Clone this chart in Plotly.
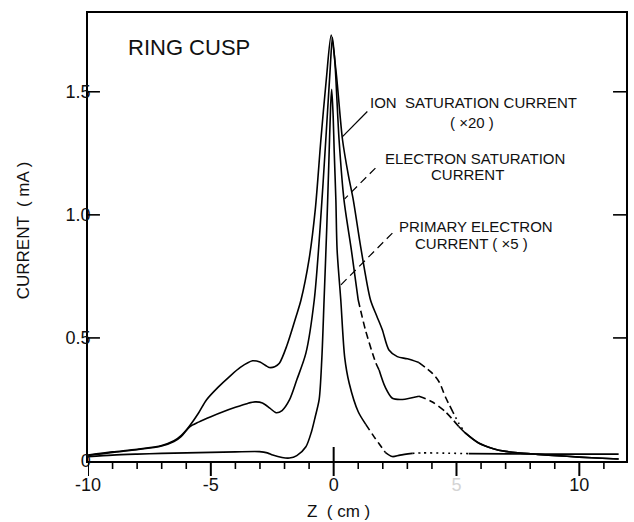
import plotly.graph_objects as go

# ---------------- data ----------------
# Ion saturation current (x20)
ion_z = [-10.0, -9.0, -8.0, -7.0, -6.5, -6.2, -5.9, -5.5, -5.18, -4.7, -4.24, -3.8, -3.3, -3.0,
         -2.62, -2.4, -2.21, -1.9, -1.53, -1.33, -1.0, -0.75, -0.52, -0.3, -0.1, 0.1, 0.36,
         0.6, 0.8, 1.1, 1.5, 1.75, 1.98, 2.25, 2.59, 3.0, 3.47, 4.0, 4.3, 4.55, 4.85, 5.09,
         5.36, 5.9, 6.5, 7.0, 7.5, 8.3, 9.5, 10.5, 11.6]
ion_i = [0.024, 0.037, 0.048, 0.063, 0.082, 0.104, 0.138, 0.195, 0.248, 0.300, 0.343, 0.380,
         0.407, 0.402, 0.380, 0.383, 0.397, 0.470, 0.587, 0.654, 0.820, 1.020, 1.305, 1.550,
         1.730, 1.580, 1.305, 1.160, 1.060, 0.870, 0.654, 0.590, 0.533, 0.451, 0.424, 0.415,
         0.400, 0.358, 0.320, 0.260, 0.200, 0.154, 0.114, 0.073, 0.050, 0.039, 0.033, 0.027,
         0.019, 0.013, 0.008]

# Electron saturation current
elec_z = [-10.0, -9.0, -8.0, -7.0, -6.5, -6.2, -5.86, -5.5, -5.0, -4.5, -4.0, -3.5, -3.2, -2.9,
          -2.6, -2.34, -2.1, -1.8, -1.5, -1.13, -0.79, -0.55, -0.32, -0.15, -0.05, 0.05, 0.22,
          0.42, 0.72, 1.0, 1.3, 1.71, 1.85, 2.1, 2.39, 2.8, 3.47, 4.0, 4.55, 5.09, 5.4, 5.9,
          6.5, 7.0, 7.5, 8.3, 9.5, 10.5, 11.6]
elec_i = [0.022, 0.035, 0.046, 0.061, 0.079, 0.100, 0.139, 0.158, 0.180, 0.200, 0.218, 0.234,
          0.240, 0.236, 0.215, 0.196, 0.205, 0.248, 0.330, 0.438, 0.654, 0.950, 1.305, 1.580,
          1.720, 1.620, 1.305, 1.061, 0.858, 0.654, 0.530, 0.400, 0.370, 0.300, 0.255, 0.250,
          0.263, 0.241, 0.200, 0.140, 0.110, 0.073, 0.050, 0.039, 0.033, 0.027, 0.019, 0.013,
          0.008]

# Primary electron current (x5)
prim_z = [-10.0, -9.0, -8.0, -7.0, -6.0, -5.0, -4.0, -3.02, -2.7, -2.48, -2.1, -1.8, -1.5,
          -1.13, -0.9, -0.75, -0.59, -0.48, -0.39, -0.28, -0.2, -0.12, -0.08, -0.02, 0.02, 0.09,
          0.14, 0.29, 0.45, 0.63, 1.0, 1.3, 1.6, 1.85, 2.1, 2.39, 2.7, 3.2, 3.6, 4.5, 5.5, 7.0,
          9.0, 11.6]
prim_i = [0.017, 0.024, 0.028, 0.031, 0.033, 0.035, 0.037, 0.038, 0.033, 0.024, 0.014, 0.012,
          0.022, 0.058, 0.120, 0.180, 0.250, 0.420, 0.654, 0.950, 1.200, 1.450, 1.510, 1.400,
          1.264, 1.061, 0.858, 0.654, 0.420, 0.317, 0.200, 0.150, 0.105, 0.070, 0.035, 0.018,
          0.024, 0.031, 0.033, 0.032, 0.030, 0.029, 0.028, 0.028]

x_tickvals = [-10, -5, 0, 5, 10, 12]
x_ticktext = ["-10", "-5", "0", "<span style='color:#d4d4d4'>5</span>", "10", ""]
x_minor_ticks = [-9, -8, -7, -6, -4, -3, -2, -1, 1, 2, 3, 4, 6, 7, 8, 9, 11]
y_tickvals = [0, 0.5, 1.0, 1.5]
y_ticktext = ["0", "0.5", "1.0", "1.5"]

# ---------------- styling (faded print segments) ----------------
DASH = "7px,4px"
DOT = "2px,4px"
ion_style = [(-10, 3.47, "solid"), (3.47, 4.85, DASH), (4.85, 5.36, DOT), (5.36, 12, "solid")]
elec_style = [(-10, 1.0, "solid"), (1.0, 1.85, DASH), (1.85, 3.47, "solid"), (3.47, 5.09, DASH),
              (5.09, 12, "solid")]
prim_style = [(-10, 1.3, "solid"), (1.3, 2.1, DASH), (2.1, 3.2, "solid"), (3.2, 5.5, DOT),
              (5.5, 12, "solid")]

FONT = "Liberation Sans"
PLOT_W, PLOT_H = 540, 448
fig = go.Figure()


def add_series(z, cur, segs, name):
    for z0, z1, dash in segs:
        xs = [a for a in z if z0 <= a <= z1]
        ys = [b for a, b in zip(z, cur) if z0 <= a <= z1]
        fig.add_trace(go.Scatter(
            x=xs, y=ys, mode="lines", name=name, showlegend=False,
            line=dict(color="black", width=1.6, dash=dash, shape="spline", smoothing=0.8)))


add_series(ion_z, ion_i, ion_style, "Ion saturation current (x20)")
add_series(elec_z, elec_i, elec_style, "Electron saturation current")
add_series(prim_z, prim_i, prim_style, "Primary electron current (x5)")

# ---- tick marks (drawn as axis-anchored shapes) ----
tick_line = dict(color="black", width=2)
for v in x_tickvals:
    fig.add_shape(type="line", xref="x", yref="paper", x0=v, x1=v, y0=0, y1=-15 / PLOT_H,
                  line=tick_line)
for v in x_minor_ticks:
    fig.add_shape(type="line", xref="x", yref="paper", x0=v, x1=v, y0=0, y1=-8 / PLOT_H,
                  line=dict(color="black", width=1.6))
for v in y_tickvals[1:]:
    fig.add_shape(type="line", xref="paper", yref="y", x0=0, x1=12 / PLOT_W, y0=v, y1=v,
                  line=dict(color="black", width=1.6))
    fig.add_shape(type="line", xref="paper", yref="y", x0=1, x1=1 - 13 / PLOT_W, y0=v, y1=v,
                  line=dict(color="black", width=1.6))
# centre tick at z = 0 also extends above the axis
fig.add_shape(type="line", xref="x", yref="paper", x0=0, x1=0, y0=0, y1=14 / PLOT_H,
              line=tick_line)

# leader lines for the labels
fig.add_shape(type="line", x0=1.37, y0=1.42, x1=0.36, y1=1.318,
              line=dict(color="black", width=1.2))
fig.add_shape(type="line", x0=1.7, y0=1.19, x1=0.45, y1=1.065,
              line=dict(color="black", width=1.2, dash="8px,5px"))
fig.add_shape(type="line", x0=2.39, y0=0.926, x1=0.29, y1=0.715,
              line=dict(color="black", width=1.2, dash="8px,5px"))

lab = dict(family=FONT, size=15, color="#111")
ann = [
    dict(x=5.7, y=1.455, text="ION  SATURATION CURRENT"),
    dict(x=5.64, y=1.375, text="( ×20 )"),
    dict(x=5.76, y=1.23, text="ELECTRON SATURATION"),
    dict(x=5.44, y=1.163, text="CURRENT"),
    dict(x=5.8, y=0.952, text="PRIMARY ELECTRON"),
    dict(x=5.6, y=0.885, text="CURRENT ( ×5 )"),
]
for a in ann:
    fig.add_annotation(x=a["x"], y=a["y"], text=a["text"], showarrow=False,
                       xanchor="center", yanchor="middle", font=lab)
fig.add_annotation(x=-5.9, y=1.678, text="RING CUSP", showarrow=False, xanchor="center",
                   yanchor="middle", font=dict(family=FONT, size=22, color="#111"))
# axis titles
fig.add_annotation(xref="paper", yref="paper", x=-0.12, y=0.516, text="CURRENT  ( mA )",
                   textangle=-90, showarrow=False, xanchor="center", yanchor="middle",
                   font=dict(family=FONT, size=17, color="#111"))
fig.add_annotation(xref="paper", yref="paper", x=0.465, y=-50 / PLOT_H, text="Z  ( cm )",
                   showarrow=False, xanchor="center", yanchor="middle",
                   font=dict(family=FONT, size=17, color="#111"))

fig.update_layout(
    width=634, height=522,
    margin=dict(l=88, r=6, t=13, b=61),
    plot_bgcolor="white", paper_bgcolor="white",
    showlegend=False,
    xaxis=dict(
        range=[-10, 11.9], showgrid=False, zeroline=False,
        showline=True, linecolor="black", linewidth=1.5, mirror=True,
        tickmode="array", tickvals=x_tickvals, ticktext=x_ticktext,
        ticks="", ticklabelstandoff=7,
        tickfont=dict(family=FONT, size=18, color="#111"),
    ),
    yaxis=dict(
        range=[0, 1.82], showgrid=False, zeroline=False,
        showline=True, linecolor="black", linewidth=1.5, mirror=True,
        tickmode="array", tickvals=y_tickvals, ticktext=y_ticktext,
        ticks="", ticklabelstandoff=-8,
        tickfont=dict(family=FONT, size=18, color="#111"),
    ),
)

fig.write_html("out.html")
